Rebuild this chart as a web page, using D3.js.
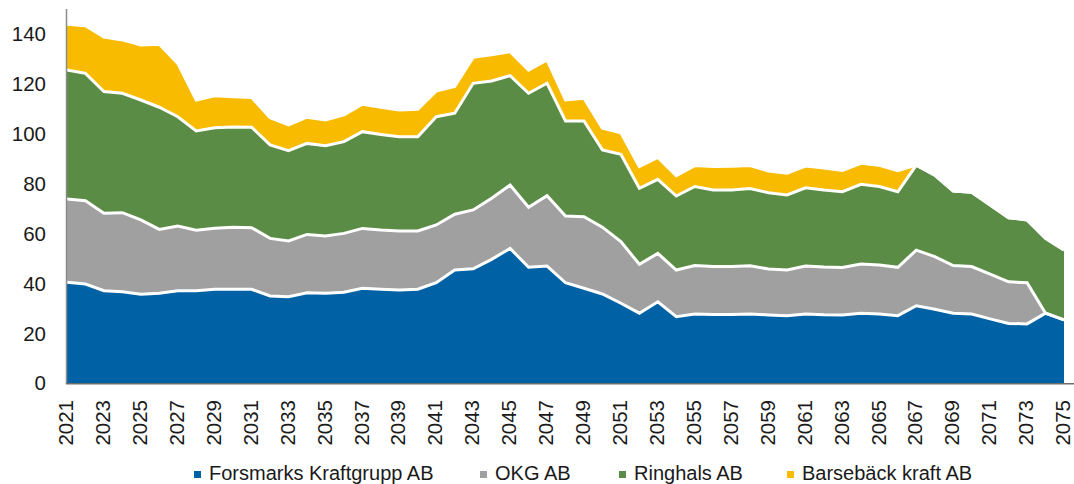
<!DOCTYPE html>
<html>
<head>
<meta charset="utf-8">
<script src="https://cdn.jsdelivr.net/npm/d3@7"></script>
<style>
  body { margin: 0; background: #fff; }
  svg { display: block; font-family: "Liberation Sans", Arial, sans-serif; }
</style>
</head>
<body>
<svg id="chart" width="1074" height="484"></svg>
<script>
const years = d3.range(2021, 2076);

const forsmark = [40.4, 39.7, 37.0, 36.6, 35.6, 36.0, 37.0, 37.0, 37.6, 37.6, 37.6, 34.9, 34.6, 36.2, 36.0, 36.4, 38.0, 37.6, 37.3, 37.6,
  40.2, 45.3, 45.8, 49.6, 54.0, 46.4, 46.9, 40.2, 38.0, 35.7, 32.0, 28.0, 32.6, 26.6, 27.7, 27.5, 27.5, 27.7, 27.3, 27.0,
  27.7, 27.4, 27.3, 28.0, 27.7, 27.0, 31.0, 29.6, 28.0, 27.7, 25.7, 23.9, 23.7, 28.0, 25.3];
const okg = [33.4, 33.4, 31.1, 31.7, 29.8, 25.6, 26.0, 24.3, 24.5, 24.9, 24.7, 23.1, 22.4, 23.4, 23.0, 23.6, 24.0, 23.8, 23.7, 23.4,
  23.2, 22.4, 23.6, 24.5, 25.4, 24.1, 28.2, 26.8, 28.7, 26.8, 24.7, 19.6, 19.4, 18.7, 19.4, 19.2, 19.2, 19.3, 18.4, 18.3,
  19.2, 19.1, 19.0, 19.7, 19.6, 19.4, 22.3, 21.1, 19.1, 19.0, 18.0, 16.7, 16.5, 0, 0];
const ringhals = [51.7, 51.1, 48.8, 47.9, 48.1, 49.0, 43.8, 39.8, 40.3, 40.2, 40.3, 37.5, 36.2, 36.5, 36.2, 36.8, 38.8, 38.3, 37.8, 37.8,
  43.4, 40.5, 50.8, 47.0, 43.9, 45.7, 45.1, 38.1, 38.4, 31.0, 35.0, 30.5, 29.7, 29.7, 31.7, 30.7, 30.7, 31.0, 30.6, 30.1,
  31.4, 30.9, 30.4, 32.0, 31.5, 30.3, 34.1, 32.7, 29.9, 29.8, 27.7, 25.7, 25.2, 30.0, 28.0];
const barseback = [18.4, 19.1, 21.8, 21.4, 22.1, 25.3, 21.4, 12.4, 12.8, 12.1, 11.9, 10.9, 10.3, 10.5, 10.3, 10.7, 11.0, 10.9, 10.7, 11.0,
  10.3, 10.7, 10.4, 10.5, 9.6, 9.3, 9.4, 8.4, 9.1, 8.7, 8.7, 8.7, 8.8, 8.2, 8.4, 9.4, 9.5, 9.2, 8.7, 8.7,
  8.7, 8.8, 8.5, 8.4, 8.5, 8.5, 0, 0, 0, 0, 0, 0, 0, 0, 0];

const seriesNames = ["Forsmarks Kraftgrupp AB", "OKG AB", "Ringhals AB", "Barsebäck kraft AB"];
const seriesColors = ["#0061a5", "#a0a0a0", "#5b8c46", "#f9bb00"];
const yTicks = [0, 20, 40, 60, 80, 100, 120, 140];

const rows = years.map((year, i) => ({
  year,
  [seriesNames[0]]: forsmark[i],
  [seriesNames[1]]: okg[i],
  [seriesNames[2]]: ringhals[i],
  [seriesNames[3]]: barseback[i],
}));

const svg = d3.select("#chart");

const x = d3.scalePoint().domain(years).range([67, 1064]);
const y = d3.scaleLinear().domain([0, 150]).range([383, 9]);
const color = d3.scaleOrdinal().domain(seriesNames).range(seriesColors);

const layers = d3.stack().keys(seriesNames)(rows);

const area = d3
  .area()
  .x((d) => x(d.data.year))
  .y0((d) => y(d[0]))
  .y1((d) => y(d[1]));

const topLine = d3
  .line()
  .x((d) => x(d.data.year))
  .y((d) => y(d[1]));

// Fills first, then the white borders on top of every layer
svg
  .append("g")
  .selectAll("path")
  .data(layers)
  .join("path")
  .attr("fill", (d) => color(d.key))
  .attr("d", area);

svg
  .append("g")
  .selectAll("path")
  .data(layers)
  .join("path")
  .attr("fill", "none")
  .attr("stroke", "#fff")
  .attr("stroke-width", 3)
  .attr("d", topLine);

// Axes lines
svg
  .append("line")
  .attr("x1", 66.5)
  .attr("x2", 66.5)
  .attr("y1", 9)
  .attr("y2", 384)
  .attr("stroke", "#8c8c8c")
  .attr("stroke-width", 1.5);

svg
  .append("line")
  .attr("x1", 66)
  .attr("x2", 1074)
  .attr("y1", 383.75)
  .attr("y2", 383.75)
  .attr("stroke", "#6e6e6e")
  .attr("stroke-width", 1.5);

// Y tick labels
svg
  .append("g")
  .selectAll("text")
  .data(yTicks)
  .join("text")
  .attr("x", 46)
  .attr("y", (d) => y(d))
  .attr("dy", "0.36em")
  .attr("text-anchor", "end")
  .attr("font-size", 20.5)
  .attr("fill", "#1a1a1a")
  .text((d) => d);

// X tick labels, every second year, rotated
svg
  .append("g")
  .selectAll("text")
  .data(years.filter((d, i) => i % 2 === 0))
  .join("text")
  .attr("transform", (d) => `translate(${x(d)},400) rotate(-90)`)
  .attr("dy", "0.3em")
  .attr("text-anchor", "end")
  .attr("font-size", 20.5)
  .attr("fill", "#1a1a1a")
  .text((d) => d);

// Legend
const legendX = [194, 480, 619, 787];
const legend = svg
  .append("g")
  .selectAll("g")
  .data(seriesNames)
  .join("g")
  .attr("transform", (d, i) => `translate(${legendX[i]},0)`);

legend
  .append("rect")
  .attr("x", 0)
  .attr("y", 471)
  .attr("width", 7)
  .attr("height", 7)
  .attr("fill", (d) => color(d));

legend
  .append("text")
  .attr("x", 15)
  .attr("y", 480)
  .attr("font-size", 20)
  .attr("fill", "#1a1a1a")
  .text((d) => d);
</script>
</body>
</html>
